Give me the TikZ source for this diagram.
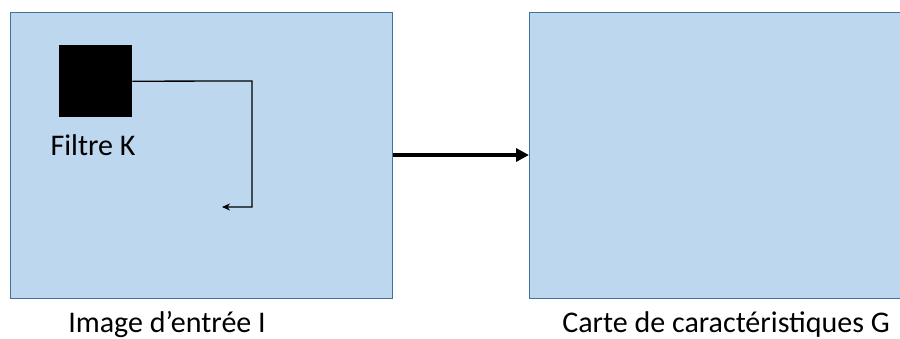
\documentclass[tikz,border=0pt]{standalone}
\usepackage{fontspec}
\setmainfont{Carlito}
\usetikzlibrary{positioning,arrows.meta}

\definecolor{mapfill}{HTML}{BDD7EE}
\definecolor{mapedge}{HTML}{41719C}

\begin{document}
\begin{tikzpicture}[x=1pt,y=-1pt,
    map/.style={draw=mapedge,fill=mapfill,line width=1.2pt,rectangle,
      minimum height=286pt,inner sep=0pt,anchor=north west},
    kernel/.style={fill=black,rectangle,minimum width=73pt,minimum height=72pt,
      inner sep=0pt,anchor=north west},
    caption/.style={font=\fontsize{30}{36}\selectfont,inner sep=0pt}]
   \useasboundingbox (0,0) rectangle (900,338);
   \node[map,minimum width=382pt] (img) at (10,12) {};
   \node[map,minimum width=382pt] (carte) at (529,12) {};
   \node[kernel] (k) at (59,45) {};
   \node[caption,anchor=base] (k_lbl) at (93,155) {Filtre K};
   \coordinate (turn) at (252,81);
   \coordinate (stop) at (222,207);
   \node[caption,anchor=base] (img_lbl) at (167,332) {Image d’entrée I};
   \node[caption,anchor=base] (carte_lbl) at (726,332) {Carte de caractéristiques G};
   % sliding path of the kernel
   \draw[-{Stealth[length=8pt,width=7pt]},line width=1.3pt]
    (k.east) -- (turn) |- (stop);
   % convolution step
   \draw[-{Triangle[length=13pt,width=13pt]},line width=4pt]
    (img.east |- 0,155) -- (carte.west |- 0,155);
\end{tikzpicture}
\end{document}
